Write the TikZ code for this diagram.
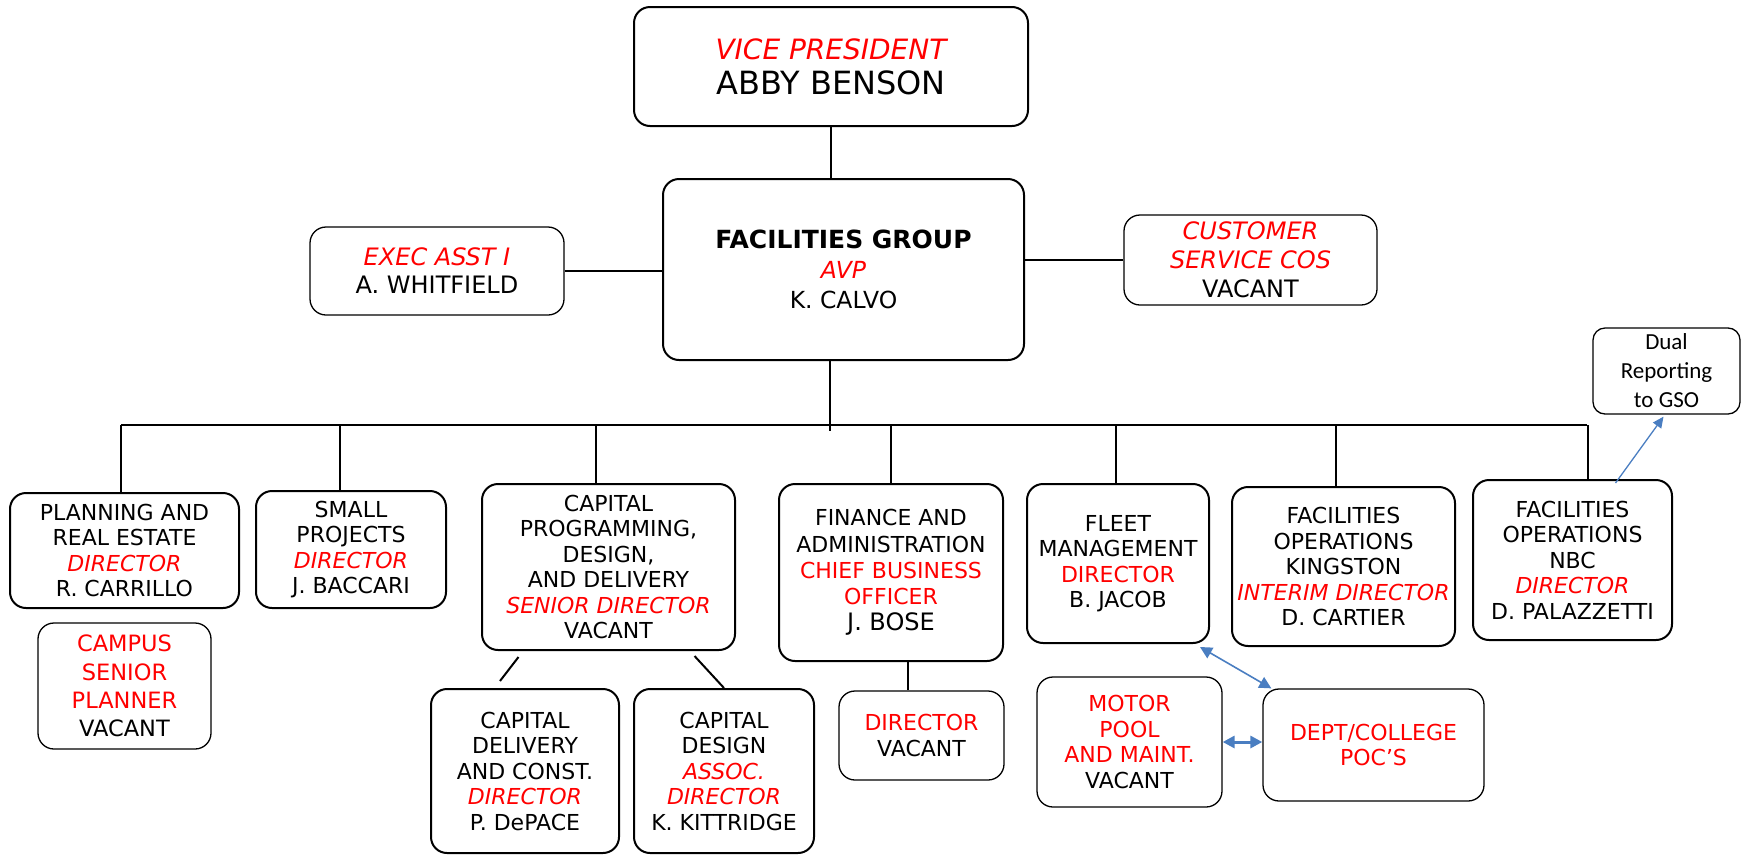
\documentclass[tikz,border=0pt]{standalone}
\usepackage{fontspec}
\setmainfont{DejaVu Sans}
\newfontfamily\gsofont{Carlito}
\usetikzlibrary{arrows.meta}

\definecolor{linkblue}{RGB}{74,126,193}
\newcommand{\redit}[1]{\textcolor{red}{\itshape #1}}
\newcommand{\redup}[1]{\textcolor{red}{#1}}

\begin{document}
\begin{tikzpicture}[
            x = 1pt, y = -1pt, % one unit per pixel, y going down
            unit/.style = {draw, rounded corners=16pt, align=center, line width=2pt,
                inner sep=2pt, font=\fontsize{22}{25.5}\selectfont},
            thinunit/.style = {unit, line width=1.3pt},
            tie/.style = {line width=2pt}, % black reporting lines
            dualtie/.style = {draw=linkblue, line width=1.6pt,
                {Triangle[length=12pt,width=12pt]}-{Triangle[length=12pt,width=12pt]}}
        ]
        \useasboundingbox (0,0) rectangle (1750,855);

        % top of the chart
        \node[unit, minimum width=394pt, minimum height=119pt,
              font=\fontsize{28}{35}\selectfont] (vp) at (831,66.5)
            {\redit{VICE PRESIDENT}\\
             {\fontsize{32}{35}\selectfont ABBY BENSON}};
        \node[unit, minimum width=361pt, minimum height=181pt,
              font=\fontsize{23.5}{30}\selectfont] (fg) at (843.5,269.5)
            {{\fontsize{25}{30}\selectfont\bfseries FACILITIES GROUP}\\\redit{AVP}\\K. CALVO};
        \node[thinunit, minimum width=254pt, minimum height=88pt,
              font=\fontsize{24}{28}\selectfont] (exec) at (437,271)
            {\redit{EXEC ASST I}\\A. WHITFIELD};
        \node[thinunit, minimum width=253pt, minimum height=90pt,
              font=\fontsize{24}{29}\selectfont] (cs) at (1250.5,260)
            {\redit{CUSTOMER}\\\redit{SERVICE COS}\\VACANT};
        \node[thinunit, rounded corners=12pt, minimum width=147pt, minimum height=86pt,
              font=\gsofont\fontsize{23}{29}\selectfont] (dual) at (1666.5,371)
            {Dual\\Reporting\\to GSO};

        % second row
        \node[unit, minimum width=229pt, minimum height=115pt] (plan) at (124.5,550.5)
            {PLANNING AND\\REAL ESTATE\\\redit{DIRECTOR}\\R. CARRILLO};
        \node[unit, minimum width=190pt, minimum height=117pt] (small) at (351,549.5)
            {SMALL\\PROJECTS\\\redit{DIRECTOR}\\J. BACCARI};
        \node[unit, minimum width=253pt, minimum height=166pt] (cap) at (608.5,567)
            {CAPITAL\\PROGRAMMING,\\DESIGN,\\AND DELIVERY\\\redit{SENIOR DIRECTOR}\\VACANT};
        \node[unit, minimum width=224pt, minimum height=177pt,
              font=\fontsize{22}{26.2}\selectfont] (fin) at (891,572.5)
            {FINANCE AND\\ADMINISTRATION\\\redup{CHIEF BUSINESS}\\\redup{OFFICER}\\
             {\fontsize{24}{27}\selectfont J. BOSE}};
        \node[unit, minimum width=182pt, minimum height=159pt] (fleet) at (1118,563.5)
            {FLEET\\MANAGEMENT\\\redup{DIRECTOR}\\B. JACOB};
        \node[unit, minimum width=223pt, minimum height=159pt] (king) at (1343.5,566.5)
            {FACILITIES\\OPERATIONS\\KINGSTON\\\redit{INTERIM DIRECTOR}\\D. CARTIER};
        \node[unit, minimum width=199pt, minimum height=160pt] (nbc) at (1572.5,560)
            {FACILITIES\\OPERATIONS\\NBC\\\redit{DIRECTOR}\\D. PALAZZETTI};

        % third row
        \node[thinunit, minimum width=173pt, minimum height=126pt,
              font=\fontsize{22.5}{28.3}\selectfont] (campus) at (124.5,686)
            {\redup{CAMPUS}\\\redup{SENIOR}\\\redup{PLANNER}\\VACANT};
        \node[unit, minimum width=188pt, minimum height=164pt] (cdel) at (525,771)
            {CAPITAL\\DELIVERY\\AND CONST.\\\redit{DIRECTOR}\\P. DePACE};
        \node[unit, minimum width=180pt, minimum height=164pt] (cdes) at (724,771)
            {CAPITAL\\DESIGN\\\redit{ASSOC.}\\\redit{DIRECTOR}\\K. KITTRIDGE};
        \node[thinunit, minimum width=165pt, minimum height=89pt] (fdir) at (921.5,735.5)
            {\redup{DIRECTOR}\\VACANT};
        \node[thinunit, minimum width=185pt, minimum height=130pt,
              font=\fontsize{22}{25.7}\selectfont] (motor) at (1129.5,742)
            {\redup{MOTOR}\\\redup{POOL}\\\redup{AND MAINT.}\\VACANT};
        \node[thinunit, minimum width=221pt, minimum height=112pt] (poc) at (1373.5,745)
            {\redup{DEPT/COLLEGE}\\\redup{POC’S}};

        % bus under the facilities group
        \coordinate (busL) at (121,425);
        \coordinate (busR) at (1587,425);
        \coordinate (busC) at (830,431);

        \draw[tie] (vp.south) -- (vp.south |- fg.north);
        \draw[tie] (exec.east) -- (fg.west |- exec.east);
        \draw[tie] (fg.east |- cs.west) -- (cs.west);
        \draw[tie] (busC |- fg.south) -- (busC);
        \draw[tie] (busL) -- (busR);
        \foreach \n/\dx in {plan/-4, small/-11, cap/-13, fin/0, fleet/-2, king/-8, nbc/15}
            \draw[tie] ([xshift=\dx pt]\n.north) -- ([xshift=\dx pt]\n.north |- busL);

        \draw[tie] ([xshift=-90pt,yshift=-6pt]cap.south) -- ([xshift=-25pt,yshift=7pt]cdel.north);
        \draw[tie] ([xshift=86pt,yshift=-5pt]cap.south) -- (cdes.north);
        \draw[tie] ([xshift=17pt]fin.south) -- ([xshift=17pt]fin.south |- fdir.north);

        % blue links
        \draw[dualtie] ([xshift=-10pt,yshift=-3pt]fleet.south east) -- ([xshift=9pt]poc.north west);
        \draw[dualtie, line width=3pt] (motor.east) -- (motor.east -| poc.west);
        \draw[draw=linkblue, line width=1.3pt, -{Triangle[length=11pt,width=10pt]}]
            ([xshift=43pt,yshift=-4pt]nbc.north) -- ([xshift=-3pt,yshift=-2pt]dual.south);
\end{tikzpicture}
\end{document}
